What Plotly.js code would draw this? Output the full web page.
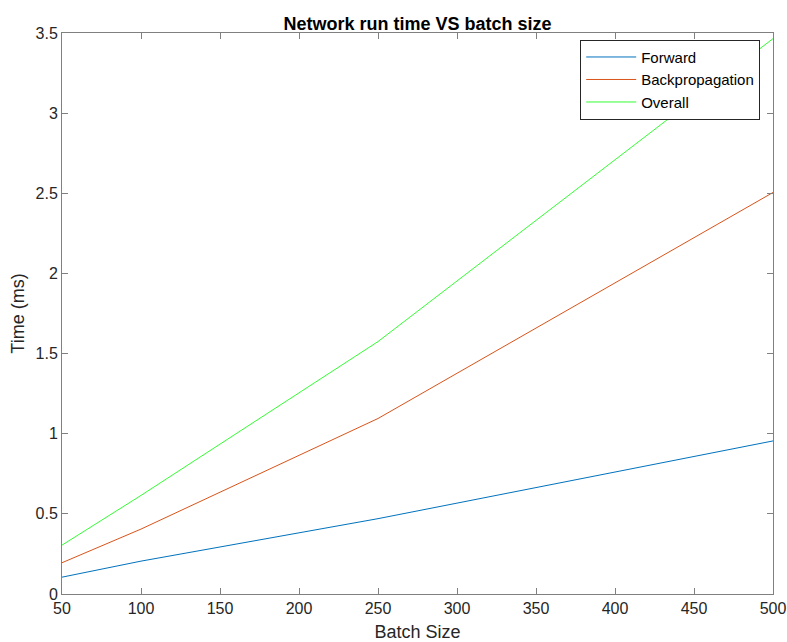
<!DOCTYPE html>
<html>
<head>
<meta charset="utf-8">
<script src="https://cdn.plot.ly/plotly-3.0.1.min.js"></script>
<style>html,body{margin:0;padding:0;background:#fff;}#chart{width:787px;height:642px;}</style>
</head>
<body>
<div id="chart"></div>
<script>
const batchSize = [50, 100, 250, 500];
const forward = [0.105, 0.205, 0.47, 0.955];
const backprop = [0.195, 0.405, 1.095, 2.505];
const overall = [0.305, 0.615, 1.575, 3.465];
const seriesNames = ['Forward', 'Backpropagation', 'Overall'];
const xTicks = [50, 100, 150, 200, 250, 300, 350, 400, 450, 500];
const yTicks = [0, 0.5, 1, 1.5, 2, 2.5, 3, 3.5];
const yTickText = ['0', '0.5', '1', '1.5', '2', '2.5', '3', '3.5'];

const font = 'Liberation Sans, Arial, sans-serif';
const colors = ['#0072BD', '#D95319', '#33FF33'];
const ys = [forward, backprop, overall];
const data = ys.map((y, i) => ({
  x: batchSize, y: y, type: 'scatter', mode: 'lines', name: seriesNames[i],
  line: {color: colors[i], width: 1}
}));

const axisCommon = {
  showgrid: false, zeroline: false, showline: true, mirror: 'ticks',
  linecolor: '#808080', linewidth: 1, ticks: 'inside', ticklen: 6, tickcolor: '#808080',
  tickfont: {family: font, size: 16, color: '#262626'}
};

const layout = {
  width: 787, height: 642,
  margin: {l: 62, r: 14, t: 33, b: 48},
  paper_bgcolor: '#fff', plot_bgcolor: '#fff',
  title: {text: '<b>Network run time VS batch size</b>', font: {family: font, size: 18, color: '#000'},
          x: 0.5, xref: 'paper', y: 1, yref: 'paper', yanchor: 'bottom', pad: {b: 3}},
  xaxis: Object.assign({}, axisCommon, {
    range: [50, 500], tickvals: xTicks, ticktext: xTicks.map(String),
    title: {text: 'Batch Size', font: {family: font, size: 18, color: '#262626'}, standoff: 9}
  }),
  yaxis: Object.assign({}, axisCommon, {
    range: [0, 3.5], tickvals: yTicks, ticktext: yTickText,
    title: {text: 'Time (ms)', font: {family: font, size: 18, color: '#262626'}, standoff: 6}
  }),
  showlegend: true,
  legend: {
    x: 0.982, xanchor: 'right', y: 0.988, yanchor: 'top',
    bgcolor: '#fff', bordercolor: '#262626', borderwidth: 1,
    font: {family: font, size: 15, color: '#000'}, tracegroupgap: 0, itemwidth: 50
  }
};

Plotly.newPlot('chart', data, layout, {displayModeBar: false, staticPlot: true});
</script>
</body>
</html>
